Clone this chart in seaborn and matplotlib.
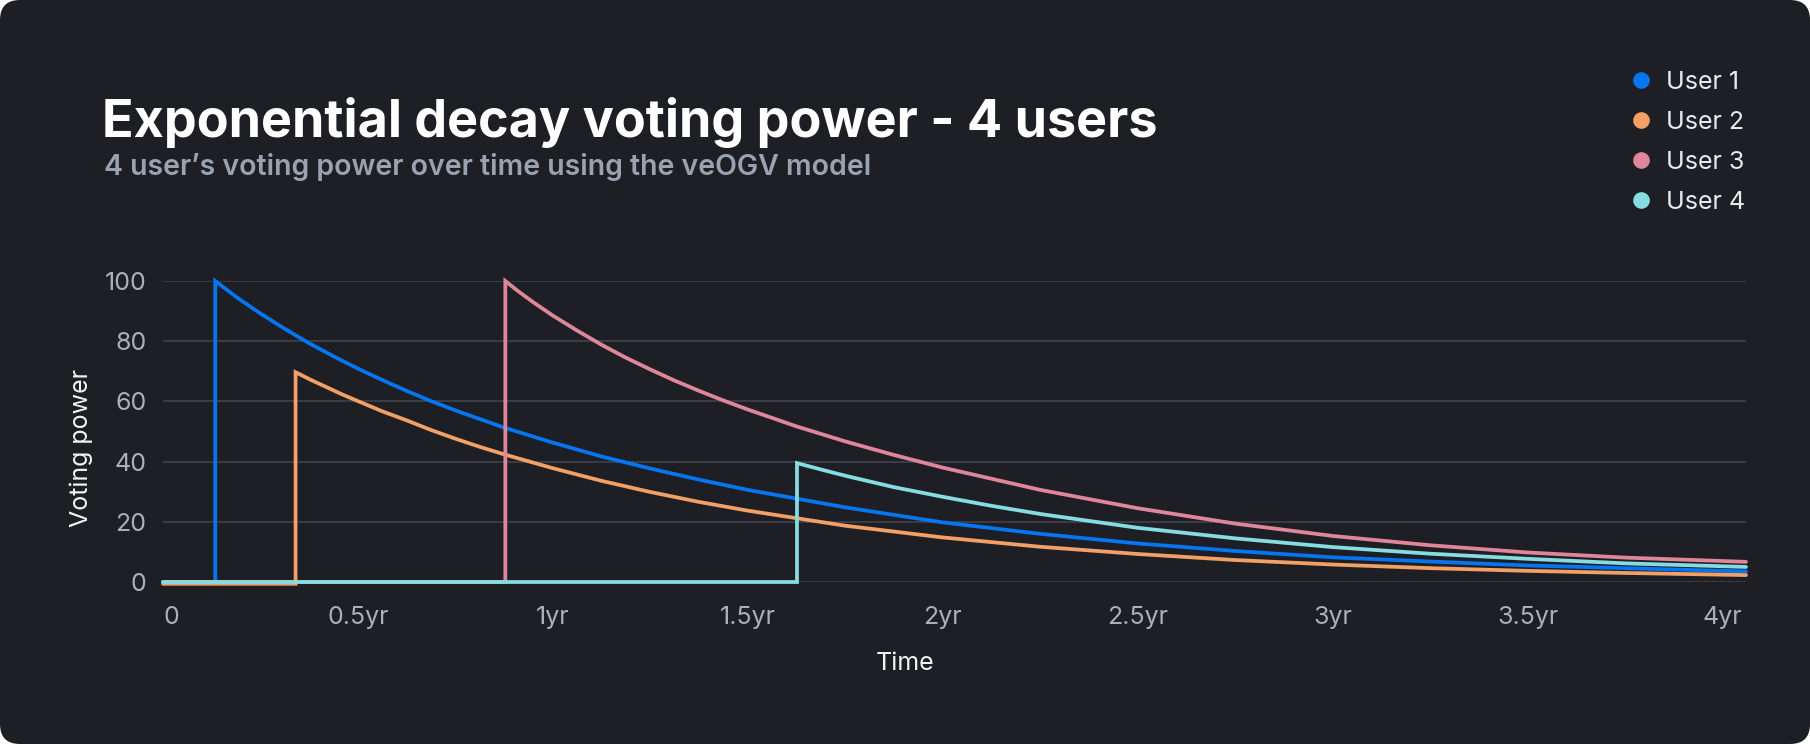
import numpy as np
import pandas as pd
import matplotlib.pyplot as plt
import seaborn as sns
from matplotlib.patches import FancyBboxPatch
from matplotlib.lines import Line2D

# ==================== data ====================
USERS = ["User 1", "User 2", "User 3", "User 4"]
COLORS = ["#0575F2", "#F2A066", "#E0869A", "#86DDE1"]

user1_t = [0, 0.134, 0.134, 0.19, 0.25, 0.31, 0.375, 0.44, 0.5, 0.5625, 0.625, 0.6875,
           0.75, 0.875, 1.0, 1.125, 1.25, 1.375, 1.5, 1.75, 2.0, 2.25, 2.5, 2.75,
           3.0, 3.25, 3.5, 3.75, 4.06]
user1_v = [0, 0, 100, 94.5, 89.2, 84.3, 79.3, 74.8, 70.9, 67.1, 63.5, 60.1,
           57.0, 51.3, 46.3, 41.7, 37.7, 34.0, 30.6, 24.8, 19.8, 16.0, 12.8, 10.3,
           8.2, 6.8, 5.5, 4.6, 3.5]

user2_t = [0, 0.34, 0.34, 0.38, 0.42, 0.46, 0.5, 0.5625, 0.625, 0.6875, 0.75, 0.8125,
           0.875, 1.0, 1.125, 1.25, 1.375, 1.5, 1.75, 2.0, 2.25, 2.5, 2.75, 3.0,
           3.25, 3.5, 3.75, 4.06]
user2_v = [-0.6, -0.6, 69.7, 67.1, 64.7, 62.3, 60.1, 56.7, 53.7, 50.5, 47.6, 44.9,
           42.4, 37.8, 33.6, 29.9, 26.6, 23.7, 18.7, 14.8, 11.7, 9.3, 7.3, 5.8,
           4.6, 3.7, 3.0, 2.3]

user3_t = [0, 0.878, 0.878, 0.91, 0.95, 1.0, 1.0625, 1.125, 1.1875, 1.25, 1.3125, 1.375,
           1.4375, 1.5, 1.625, 1.75, 1.875, 2.0, 2.25, 2.5, 2.75, 3.0, 3.25, 3.5,
           3.75, 4.06]
user3_v = [0, 0, 100, 96.7, 92.9, 88.5, 83.5, 78.8, 74.5, 70.6, 66.9, 63.5,
           60.3, 57.3, 51.7, 46.7, 42.2, 38.0, 30.6, 24.5, 19.4, 15.3, 12.2, 9.8,
           8.1, 6.7]

user4_t = [0, 1.626, 1.626, 1.69, 1.75, 1.875, 2.0, 2.125, 2.25, 2.5, 2.75, 3.0,
           3.25, 3.5, 3.75, 4.06]
user4_v = [0, 0, 39.5, 37.3, 35.3, 31.5, 28.3, 25.3, 22.6, 18.0, 14.5, 11.6,
           9.4, 7.7, 6.2, 5.0]

X_TICKS = [0, 0.5, 1, 1.5, 2, 2.5, 3, 3.5, 4]
X_LABELS = ["0", "0.5yr", "1yr", "1.5yr", "2yr", "2.5yr", "3yr", "3.5yr", "4yr"]
Y_TICKS = [0, 20, 40, 60, 80, 100]

TITLE = "Exponential decay voting power - 4 users"
SUBTITLE = "4 user\u2019s voting power over time using the veOGV model"

# ==================== style ====================
BG = "#1E1F24"
GRID = "#3A3D46"
TICK = "#A9AFBB"
sns.set_theme(style="dark")
plt.rcParams['font.family'] = ['Inter', 'DejaVu Sans']

frames = []
for name, t, v in zip(USERS, [user1_t, user2_t, user3_t, user4_t],
                      [user1_v, user2_v, user3_v, user4_v]):
    frames.append(pd.DataFrame({"Time": t, "Voting power": v, "user": name}))
df = pd.concat(frames, ignore_index=True)

W, H = 1810, 744
fig = plt.figure(figsize=(W / 100, H / 100), dpi=100, facecolor="white")
fig.patches.append(FancyBboxPatch((0, 0), W / 100, H / 100,
                                  boxstyle="round,pad=0,rounding_size=0.2",
                                  transform=fig.dpi_scale_trans, facecolor=BG,
                                  edgecolor="none", zorder=-10))

ax = fig.add_axes([163 / W, 1 - 582 / H, (1746 - 163) / W, (582 - 281) / H])
ax.set_facecolor("none")
ax.set_zorder(2)

sns.lineplot(data=df, x="Time", y="Voting power", hue="user", hue_order=USERS,
             palette=COLORS, estimator=None, sort=False,
             linewidth=2.7, legend=False, ax=ax, clip_on=False,
             solid_joinstyle="miter")

ax.set_xlim(0, 4.06)
ax.set_ylim(0, 100)
ax.set_xticks(X_TICKS, X_LABELS)
ax.set_yticks(Y_TICKS)
ax.tick_params(axis="both", length=0, colors=TICK, labelsize=18)
ax.tick_params(axis="x", pad=17)
ax.tick_params(axis="y", pad=12)
ax.get_xticklabels()[0].set_ha("left")  # first label starts at the axis edge
ax.grid(axis="y", color=GRID, linewidth=1.4)
ax.grid(axis="x", visible=False)
ax.set_axisbelow(True)
for s in ax.spines.values():
    s.set_visible(False)
ax.set_xlabel("")
ax.set_ylabel("")

fig.text(81 / W, 1 - 448 / H, "Voting power", rotation=90, color="#F2F3F5",
         fontsize=18, ha="center", va="center")
fig.text(905 / W, 1 - 664 / H, "Time", color="#F2F3F5", fontsize=18,
         ha="center", va="center")

fig.text(102 / W, 1 - 137 / H, TITLE, color="white", fontsize=37.5,
         fontweight="bold", ha="left", va="baseline")
fig.text(104 / W, 1 - 175 / H, SUBTITLE, color="#9AA2B1", fontsize=20.5,
         fontweight="semibold", ha="left", va="baseline")

handles = [Line2D([], [], linestyle="none", marker="o", markersize=12,
                  markerfacecolor=c, markeredgecolor="none") for c in COLORS]
fig.legend(handles, USERS, loc="upper left", bbox_to_anchor=(1632 / W, 1 - 71 / H),
           frameon=False, fontsize=18, labelcolor="#E8EAEE", borderpad=0,
           borderaxespad=0, handlelength=0.7, handletextpad=0.65, labelspacing=0.68)

fig.savefig("out.png", dpi=100, facecolor="white")
